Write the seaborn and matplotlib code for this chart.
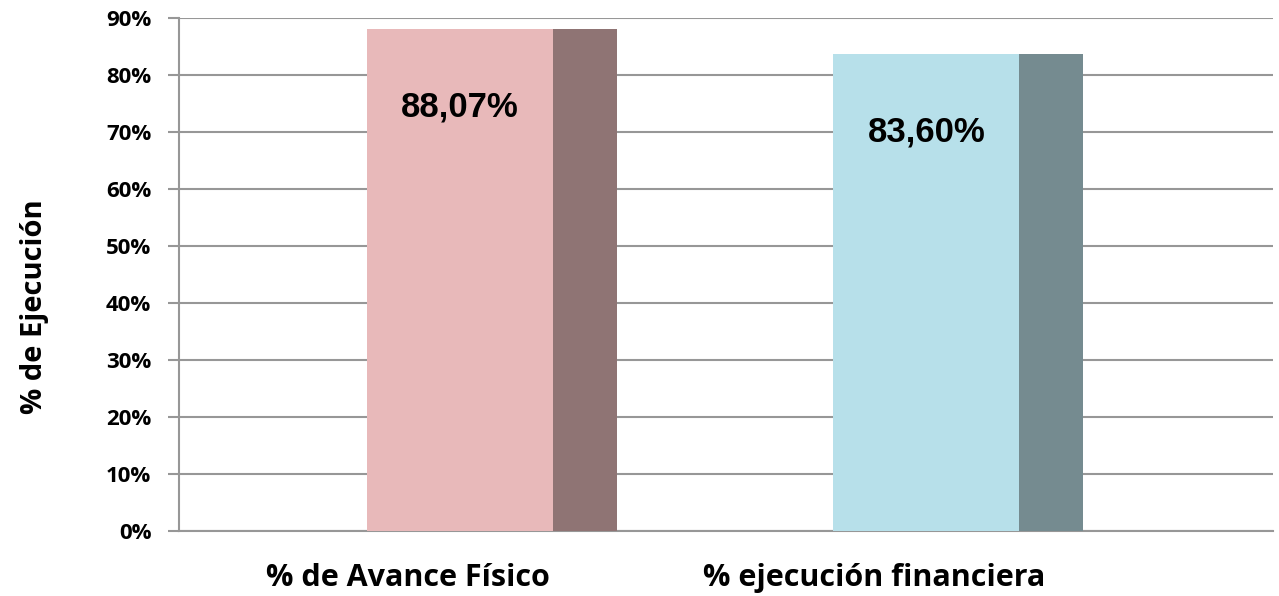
import matplotlib
matplotlib.use("Agg")
from matplotlib import pyplot as plt
from matplotlib.ticker import PercentFormatter
import numpy as np
import pandas as pd
import seaborn as sns

indicadores = ['% de Avance Físico', '% ejecución financiera']
valores = [0.8807, 0.8360]
etiquetas = ['88,07%', '83,60%']
color_frente = ['#E8B9BA', '#B7E0EA']
color_lado = ['#8F7474', '#758B90']

df = pd.DataFrame({'indicador': indicadores, 'valor': valores})

sns.set_style('white')
plt.rcParams['font.family'] = ['Open Sans', 'DejaVu Sans']
plt.rcParams['text.color'] = 'black'

fig = plt.figure(figsize=(12.79, 5.96), dpi=100)
ax = fig.add_axes([0.14, 0.109, 0.8553, 0.8616])

ancho = 0.399
ancho_lado = 0.137
sns.barplot(data=df, x='indicador', y='valor', hue='indicador',
            palette=color_frente, width=ancho, saturation=1, linewidth=0,
            legend=False, ax=ax, zorder=3)

pos = np.arange(len(valores))
# cara lateral (efecto 3D)
ax.bar(pos + ancho / 2 + ancho_lado / 2, valores, ancho_lado,
       color=color_lado, zorder=3, linewidth=0)

for x, v, t in zip(pos, valores, etiquetas):
    ax.text(x, v - 0.137, t, ha='center', va='center', fontsize=25,
            fontweight='bold', family=['Liberation Sans', 'DejaVu Sans'],
            color='black', zorder=4)

ax.set_ylim(0, 0.9)
ax.set_xlim(-0.602, 1.743)
ax.set_yticks(np.arange(0, 0.91, 0.1))
ax.yaxis.set_major_formatter(PercentFormatter(1.0, decimals=0))
ax.grid(axis='y', color='#979797', linewidth=1.5, zorder=0)
ax.set_axisbelow(True)

ax.set_xticks(pos - 0.111)
ax.set_xticklabels(indicadores, fontsize=22, fontweight='bold')
ax.tick_params(axis='x', length=0, pad=23, labelcolor='black')
ax.tick_params(axis='y', length=8, width=1.5, color='#979797', direction='out',
               pad=12, labelsize=16, left=True, labelcolor='black')
for lab in ax.get_yticklabels():
    lab.set_fontweight('bold')

ax.set_xlabel('')
ax.set_ylabel('')
fig.text(0.027, 0.485, '% de Ejecución', rotation=90, ha='center', va='center',
         fontsize=21, fontweight='bold', color='black')

for s in ['top', 'right']:
    ax.spines[s].set_visible(False)
for s in ['left', 'bottom']:
    ax.spines[s].set_color('#979797')
    ax.spines[s].set_linewidth(1.5)

fig.savefig('out.png', dpi=100)
